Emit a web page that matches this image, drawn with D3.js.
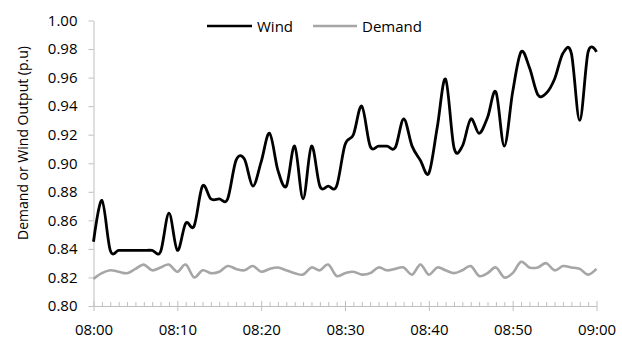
<!DOCTYPE html>
<html>
<head>
<meta charset="utf-8">
<script src="https://cdn.jsdelivr.net/npm/d3@7"></script>
<style>
  html, body { margin: 0; padding: 0; background: #fff; }
  svg { display: block; font-family: "Open Sans", sans-serif; }
</style>
</head>
<body>
<svg id="chart" width="622" height="339"></svg>
<script>
// Minute-by-minute readings, 08:00 to 09:00
const windValues = [
  0.845, 0.874, 0.839, 0.839, 0.839, 0.839, 0.839, 0.839, 0.838, 0.865,
  0.839, 0.858, 0.856, 0.884, 0.875, 0.875, 0.875, 0.902, 0.903, 0.884,
  0.901, 0.921, 0.895, 0.884, 0.912, 0.875, 0.912, 0.884, 0.884, 0.884,
  0.913, 0.920, 0.940, 0.912, 0.912, 0.912, 0.911, 0.931, 0.912, 0.902,
  0.893, 0.925, 0.959, 0.911, 0.912, 0.931, 0.921, 0.932, 0.950, 0.912,
  0.950, 0.978, 0.967, 0.948, 0.949, 0.959, 0.977, 0.977, 0.930, 0.978,
  0.978
];
const demandValues = [
  0.819, 0.823, 0.825, 0.824, 0.823, 0.826, 0.829, 0.825, 0.827, 0.829,
  0.824, 0.829, 0.820, 0.825, 0.823, 0.824, 0.828, 0.826, 0.825, 0.828,
  0.824, 0.826, 0.827, 0.825, 0.823, 0.822, 0.827, 0.825, 0.829, 0.821,
  0.823, 0.824, 0.822, 0.823, 0.827, 0.825, 0.826, 0.827, 0.822, 0.829,
  0.822, 0.827, 0.825, 0.823, 0.825, 0.828, 0.821, 0.823, 0.827, 0.820,
  0.823, 0.831, 0.827, 0.827, 0.830, 0.825, 0.828, 0.827, 0.826, 0.822,
  0.826
];
const seriesNames = ["Wind", "Demand"];
const xTickMinutes = [0, 10, 20, 30, 40, 50, 60];
const xTickLabels = ["08:00", "08:10", "08:20", "08:30", "08:40", "08:50", "09:00"];
const yTicks = [0.80, 0.82, 0.84, 0.86, 0.88, 0.90, 0.92, 0.94, 0.96, 0.98, 1.00];
const yTitle = "Demand or Wind Output (p.u)";

const svg = d3.select("#chart");
const axisColor = "#bfbfbf";
const colors = { Wind: "#000000", Demand: "#a6a6a6" };

const minutes = windValues.map((_, i) => i);

const x = d3.scaleLinear().domain([0, 60]).range([93.5, 596.5]);
const y = d3.scaleLinear().domain([0.80, 1.00]).range([306, 20.5]);

// Y axis
const yAxis = svg.append("g")
  .attr("transform", `translate(${x(0)},0)`)
  .call(d3.axisLeft(y).tickValues(yTicks).tickSize(5).tickSizeOuter(0)
    .tickPadding(11).tickFormat(d => d.toFixed(2)));
yAxis.select(".domain").attr("stroke", axisColor);
yAxis.selectAll(".tick line").attr("stroke", axisColor);
yAxis.selectAll("text").attr("font-size", 15).attr("fill", "#000")
  .attr("font-family", "Open Sans");

// X axis: minor ticks every minute inside, major ticks crossing the axis
const minorTicks = minutes.filter(m => m % 10 !== 0);
const xMinor = svg.append("g")
  .attr("transform", `translate(0,${y(0.80)})`)
  .call(d3.axisTop(x).tickValues(minorTicks).tickSize(4).tickFormat(""));
xMinor.select(".domain").remove();
xMinor.selectAll(".tick line").attr("stroke", axisColor);

const xAxis = svg.append("g")
  .attr("transform", `translate(0,${y(0.80)})`)
  .call(d3.axisBottom(x).tickValues(xTickMinutes).tickSize(5).tickSizeOuter(0)
    .tickFormat((d, i) => xTickLabels[i]));
xAxis.select(".domain").attr("stroke", axisColor);
xAxis.selectAll(".tick line").attr("stroke", axisColor).attr("y1", -5);
xAxis.selectAll("text").attr("font-size", 15).attr("fill", "#000")
  .attr("font-family", "Open Sans").attr("y", 18.5);

// Series lines (smoothed)
const line = d3.line()
  .x((d, i) => x(minutes[i]))
  .y(d => y(d))
  .curve(d3.curveCardinal.tension(0));

svg.append("path")
  .datum(demandValues)
  .attr("fill", "none")
  .attr("stroke", colors.Demand)
  .attr("stroke-width", 2.6)
  .attr("stroke-linejoin", "round")
  .attr("d", line);

svg.append("path")
  .datum(windValues)
  .attr("fill", "none")
  .attr("stroke", colors.Wind)
  .attr("stroke-width", 2.8)
  .attr("stroke-linejoin", "round")
  .attr("d", line);

// Y axis title
svg.append("text")
  .attr("transform", "translate(27.5,143) rotate(-90)")
  .attr("text-anchor", "middle")
  .attr("font-size", 14)
  .attr("fill", "#000")
  .text(yTitle);

// Legend
const legendItems = [
  { name: seriesNames[0], x1: 207, x2: 252, tx: 257 },
  { name: seriesNames[1], x1: 313, x2: 357, tx: 362 }
];
const legend = svg.append("g");
legendItems.forEach(item => {
  legend.append("line")
    .attr("x1", item.x1).attr("x2", item.x2)
    .attr("y1", 26).attr("y2", 26)
    .attr("stroke", colors[item.name])
    .attr("stroke-width", 2.6);
  legend.append("text")
    .attr("x", item.tx).attr("y", 31.5)
    .attr("font-size", 15)
    .attr("fill", "#000")
    .text(item.name);
});
</script>
</body>
</html>
